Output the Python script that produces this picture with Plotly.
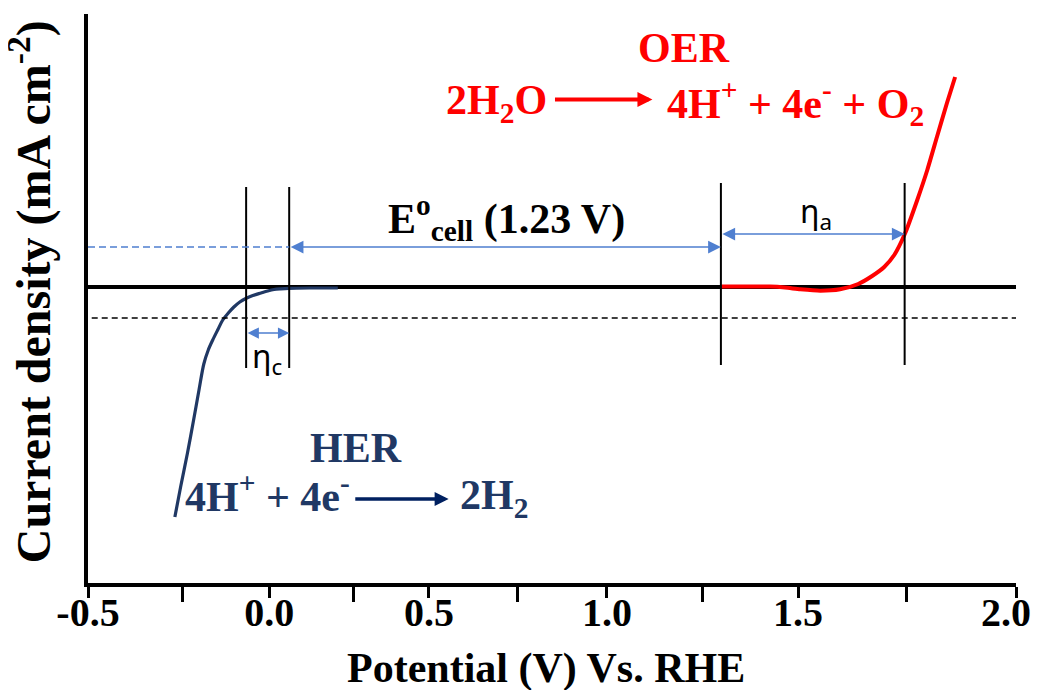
import plotly.graph_objects as go

# ---------------- data (read from the schematic) ----------------
# HER polarisation curve: potential (V vs RHE) and current density (arb. mA cm^-2)
her_potential = [-0.266, -0.250, -0.232, -0.216, -0.201, -0.188, -0.176, -0.164,
                 -0.150, -0.137, -0.122, -0.107, -0.091, -0.075, -0.056, -0.034,
                 -0.016, 0.001, 0.019, 0.041, 0.100, 0.173]
her_current = [-23.0, -19.9, -16.6, -13.4, -10.3, -7.7, -6.3, -5.3,
               -4.25, -3.3, -2.6, -2.0, -1.5, -1.15, -0.85, -0.6,
               -0.4, -0.25, -0.18, -0.13, -0.1, -0.1]

# OER polarisation curve
oer_potential = [1.206, 1.271, 1.338, 1.378, 1.419, 1.473, 1.526, 1.575,
                 1.6125, 1.645, 1.672, 1.701, 1.734, 1.761, 1.787, 1.814, 1.836]
oer_current = [0.05, 0.05, 0.05, -0.05, -0.23, -0.37, -0.23, 0.3,
               1.1, 2.0, 3.2, 5.35, 8.7, 11.7, 15.0, 18.4, 21.0]

# overpotential boundaries (V) and helper levels (current density)
eta_c_bounds = [-0.074, 0.042]
eta_a_bounds = [1.205, 1.700]
eta_c_span = [-8.1, 10.0]
eta_a_span = [-7.8, 10.4]
ref_level_black = -3.1
ref_level_blue = 4.0
eta_a_level = 5.3
eta_c_level = -4.6

# axis ticks as placed in the schematic
major_tick_vals = [-0.5, -0.012, 0.4185, 0.898, 1.413, 2.0]
major_tick_text = ["-0.5", "0.0", "0.5", "1.0", "1.5", "2.0"]
minor_tick_vals = [-0.245, 0.215, 0.656, 1.1555, 1.705]

x_range = [-0.5, 2.0]
y_range = [-29.6, 27.3]

SERIF = "Liberation Serif"
HER_COLOR = "#203864"
BLUE = "#4F7FD0"

fig = go.Figure()
fig.add_trace(go.Scatter(x=her_potential, y=her_current, mode="lines",
                         line=dict(color=HER_COLOR, width=3.2, shape="spline", smoothing=0.9),
                         hoverinfo="skip", showlegend=False))
fig.add_trace(go.Scatter(x=oer_potential, y=oer_current, mode="lines",
                         line=dict(color="#FF0000", width=4, shape="spline", smoothing=0.6),
                         hoverinfo="skip", showlegend=False))

shapes = []
for xb in eta_c_bounds:
    shapes.append(dict(type="line", xref="x", yref="y", x0=xb, x1=xb,
                       y0=eta_c_span[0], y1=eta_c_span[1],
                       line=dict(color="black", width=2)))
for xb in eta_a_bounds:
    shapes.append(dict(type="line", xref="x", yref="y", x0=xb, x1=xb,
                       y0=eta_a_span[0], y1=eta_a_span[1],
                       line=dict(color="black", width=2)))
shapes.append(dict(type="line", xref="x", yref="y", x0=x_range[0] + 0.01, x1=x_range[1],
                   y0=ref_level_black, y1=ref_level_black,
                   line=dict(color="black", width=1.5, dash="6px,4px")))
shapes.append(dict(type="line", xref="x", yref="y", x0=x_range[0], x1=eta_c_bounds[1],
                   y0=ref_level_blue, y1=ref_level_blue,
                   line=dict(color=BLUE, width=1.5, dash="7px,4px")))

annotations = []


def dbl_arrow(x_from, x_to, y, size):
    return dict(x=x_to, y=y, ax=x_from, ay=y, xref="x", yref="y", axref="x", ayref="y",
                text="", showarrow=True, arrowside="end+start",
                arrowhead=2, startarrowhead=2, arrowsize=size, startarrowsize=size,
                arrowwidth=1.5, arrowcolor=BLUE, standoff=0, startstandoff=0)


annotations.append(dbl_arrow(eta_c_bounds[1], eta_a_bounds[0], ref_level_blue, 1.7))
annotations.append(dbl_arrow(eta_a_bounds[0], eta_a_bounds[1], eta_a_level, 1.7))
annotations.append(dbl_arrow(eta_c_bounds[0], eta_c_bounds[1], eta_c_level, 1.5))

# reaction arrows
annotations.append(dict(x=1.0205, y=18.75, ax=0.754, ay=18.75, xref="x", yref="y",
                        axref="x", ayref="y", text="", showarrow=True, arrowhead=2,
                        arrowsize=0.75, arrowwidth=4, arrowcolor="#FF0000", standoff=0))
annotations.append(dict(x=0.4715, y=-21.2, ax=0.216, ay=-21.2, xref="x", yref="y",
                        axref="x", ayref="y", text="", showarrow=True, arrowhead=2,
                        arrowsize=0.8, arrowwidth=3.5, arrowcolor="#002060", standoff=0))


def label(text, x, y, color, size=42, xanchor="center", family=SERIF):
    return dict(x=x, y=y, xref="x", yref="y", text=text, showarrow=False,
                xanchor=xanchor, yanchor="middle",
                font=dict(family=family, size=size, color=color))


annotations += [
    label("<b>OER</b>", 1.105, 23.9, "#FF0000"),
    label("<b>2H<sub>2</sub>O</b>", 0.742, 18.4, "#FF0000", xanchor="right"),
    label("<b>4H<sup>+</sup> + 4e<sup>-</sup> + O<sub>2</sub></b>", 1.055, 18.4, "#FF0000", xanchor="left"),
    label("<b>HER</b>", 0.222, -16.1, HER_COLOR),
    label("<b>4H<sup>+</sup> + 4e<sup>-</sup></b>", -0.244, -20.6, HER_COLOR, xanchor="left"),
    label("<b>2H<sub>2</sub></b>", 0.498, -21.1, HER_COLOR, xanchor="left"),
    label("<b>E<sup>o</sup><sub>cell</sub> (1.23 V)</b>", 0.302, 6.9, "black", xanchor="left"),
    label("η<sub>a</sub>", 1.462, 7.4, "black", size=32, family="Noto Sans"),
    label("η<sub>c</sub>", -0.018, -7.1, "black", size=32, family="Noto Sans"),
]

# the last tick label sits at the very edge of the window; draw it inside the figure
axis_tick_text = major_tick_text[:-1] + [""]
annotations.append(dict(x=major_tick_vals[-1], xref="x", y=-0.051, yref="paper",
                        text=major_tick_text[-1], showarrow=False,
                        xanchor="right", yanchor="middle", xshift=17,
                        font=dict(family=SERIF, size=40, color="black", weight="bold")))

# axis titles
annotations.append(dict(xref="paper", yref="paper", x=0.4935, y=-0.150,
                        text="<b>Potential (V) Vs. RHE</b>", showarrow=False,
                        xanchor="center", yanchor="middle",
                        font=dict(family=SERIF, size=42, color="black")))
annotations.append(dict(xref="paper", yref="paper", x=-0.0625, y=0.511,
                        text="<b>Current density (mA cm<sup>-2</sup>)</b>", showarrow=False,
                        textangle=-90, xanchor="center", yanchor="middle",
                        font=dict(family=SERIF, size=48, color="black")))

# the page adds an 8px body margin, so the figure is sized to fit the 1042x698 window
fig.update_layout(
    width=1026, height=682,
    margin=dict(l=80, r=18, t=6, b=107),
    paper_bgcolor="white", plot_bgcolor="white",
    shapes=shapes, annotations=annotations,
    showlegend=False,
    xaxis=dict(range=x_range, showgrid=False, zeroline=False,
               showline=True, linecolor="black", linewidth=4,
               ticks="outside", ticklen=11, tickwidth=3, tickcolor="black",
               tickmode="array", tickvals=major_tick_vals, ticktext=axis_tick_text,
               tickfont=dict(family=SERIF, size=40, color="black", weight="bold"),
               ticklabelstandoff=-20,
               minor=dict(tickmode="array", tickvals=minor_tick_vals, ticks="outside",
                          ticklen=15, tickwidth=3, tickcolor="black", showgrid=False)),
    yaxis=dict(range=y_range, showgrid=False, showticklabels=False, ticks="",
               zeroline=True, zerolinecolor="black", zerolinewidth=4,
               showline=True, linecolor="black", linewidth=4),
)

fig.write_html("out.html", config={"displayModeBar": False})
